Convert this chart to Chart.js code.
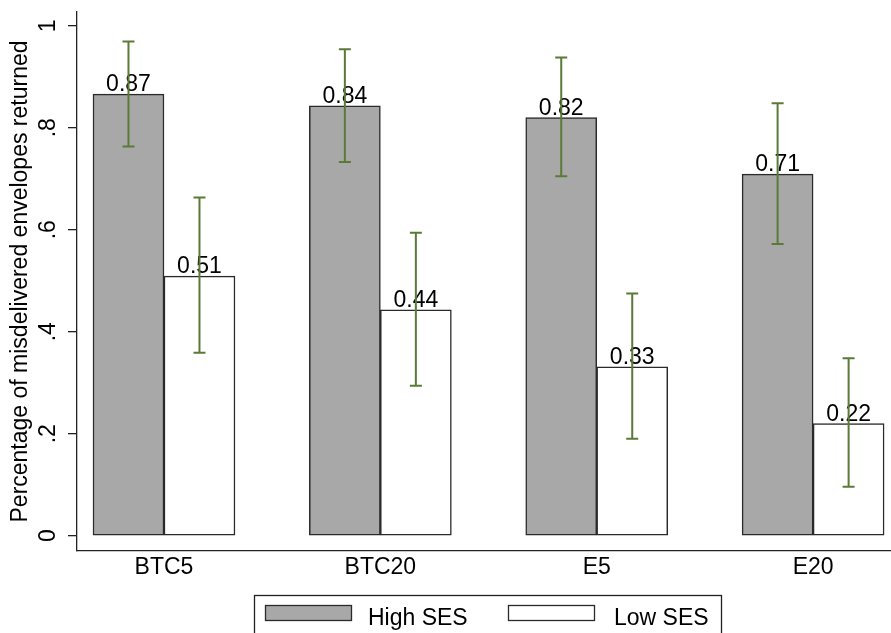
<!DOCTYPE html>
<html>
<head>
<meta charset="utf-8">
<script src="https://cdn.jsdelivr.net/npm/chart.js@4.4.1/dist/chart.umd.min.js"></script>
<style>
  html, body { margin: 0; padding: 0; background: #fff; }
  #wrap { width: 891px; height: 633px; position: relative; }
</style>
</head>
<body>
<div id="wrap"><canvas id="chart"></canvas></div>
<script>
const categories = ['BTC5', 'BTC20', 'E5', 'E20'];
const highSES = [0.866, 0.843, 0.820, 0.709];
const lowSES = [0.509, 0.443, 0.331, 0.220];
// 95% CI ends
const highLo = [0.763, 0.733, 0.705, 0.572];
const highHi = [0.969, 0.954, 0.938, 0.848];
const lowLo = [0.359, 0.294, 0.190, 0.096];
const lowHi = [0.663, 0.594, 0.475, 0.348];
const yTicks = [0, 0.2, 0.4, 0.6, 0.8, 1];
const yTickLabels = ['0', '.2', '.4', '.6', '.8', '1'];

const FONT = '"Liberation Sans", Arial, Helvetica, sans-serif';
const FS = 23;
const ciColor = '#5b7a38';

// bar values, error bars and rotated y tick labels
const extras = {
    id: 'extras',
    afterDatasetsDraw(chart) {
        const ctx = chart.ctx;
        const y = chart.scales.y;
        const errs = [[highLo, highHi], [lowLo, lowHi]];
        ctx.save();
        ctx.font = FS + 'px ' + FONT;
        ctx.fillStyle = '#000';
        ctx.textAlign = 'center';
        ctx.textBaseline = 'alphabetic';
        chart.data.datasets.forEach((ds, d) => {
            chart.getDatasetMeta(d).data.forEach((bar, i) => {
                ctx.fillText(ds.data[i].y.toFixed(2), bar.x, bar.y - 3);
            });
        });
        ctx.strokeStyle = ciColor;
        ctx.lineWidth = 2;
        chart.data.datasets.forEach((ds, d) => {
            chart.getDatasetMeta(d).data.forEach((bar, i) => {
                const x = bar.x;
                const y1 = y.getPixelForValue(errs[d][0][i]);
                const y2 = y.getPixelForValue(errs[d][1][i]);
                ctx.beginPath();
                ctx.moveTo(x, y1); ctx.lineTo(x, y2);
                ctx.moveTo(x - 6, y1); ctx.lineTo(x + 6, y1);
                ctx.moveTo(x - 6, y2); ctx.lineTo(x + 6, y2);
                ctx.stroke();
            });
        });
        ctx.restore();
    },
    afterDraw(chart) {
        const ctx = chart.ctx;
        const y = chart.scales.y;
        ctx.save();
        ctx.font = FS + 'px ' + FONT;
        ctx.fillStyle = '#000';
        ctx.textAlign = 'center';
        ctx.textBaseline = 'alphabetic';
        yTicks.forEach((v, i) => {
            ctx.save();
            ctx.translate(55, y.getPixelForValue(v));
            ctx.rotate(-Math.PI / 2);
            ctx.fillText(yTickLabels[i], 0, 0);
            ctx.restore();
        });

        // legend in a box
        ctx.strokeStyle = '#222';
        ctx.lineWidth = 1.3;
        ctx.strokeRect(254.5, 595.5, 467, 50);
        const sw = [265, 508];
        const tx = [368, 614];
        ctx.textAlign = 'left';
        chart.data.datasets.forEach((ds, d) => {
            ctx.fillStyle = ds.backgroundColor;
            ctx.fillRect(sw[d], 605, 87, 16);
            ctx.strokeStyle = ds.borderColor;
            ctx.strokeRect(sw[d] + 0.5, 605.5, 86, 15);
            ctx.fillStyle = '#000';
            ctx.fillText(ds.label, tx[d], 625);
        });
        ctx.restore();
    }
};

new Chart(document.getElementById('chart'), {
    type: 'bar',
    data: {
        datasets: [
            {
                label: 'High SES',
                data: categories.map((c, i) => ({ x: i, y: highSES[i] })),
                backgroundColor: '#a8a8a8',
                borderColor: '#2a2a2a',
                borderWidth: 1.5,
                borderSkipped: false,
                barThickness: 71
            },
            {
                label: 'Low SES',
                data: categories.map((c, i) => ({ x: i, y: lowSES[i] })),
                backgroundColor: '#ffffff',
                borderColor: '#2a2a2a',
                borderWidth: 1.5,
                borderSkipped: false,
                barThickness: 71
            }
        ]
    },
    options: {
        responsive: true,
        maintainAspectRatio: false,
        animation: false,
        layout: { padding: { top: 12, right: 0, left: 0, bottom: 42 } },
        plugins: { legend: { display: false }, tooltip: { enabled: false } },
        scales: {
            x: {
                type: 'linear',
                offset: false,
                min: -0.402,
                max: 3.36,
                afterBuildTicks: s => { s.ticks = categories.map((c, i) => ({ value: i })); },
                afterFit: s => { s.height = 40; },
                ticks: {
                    callback: v => categories[v],
                    color: '#000',
                    font: { family: FONT, size: FS },
                    padding: 3
                },
                grid: { display: false, drawTicks: false },
                border: { display: true, color: '#222', width: 1.3 }
            },
            y: {
                min: -0.03,
                max: 1.027,
                afterBuildTicks: s => { s.ticks = yTicks.map(v => ({ value: v })); },
                afterFit: s => { s.width = 77; },
                ticks: { display: false },
                grid: { drawOnChartArea: false, drawTicks: true, tickLength: 9, color: '#222', lineWidth: 1.3 },
                border: { display: true, color: '#222', width: 1.3 },
                title: {
                    display: true,
                    text: 'Percentage of misdelivered envelopes returned',
                    color: '#000',
                    font: { family: FONT, size: FS },
                    padding: { top: 7, bottom: 0 }
                }
            }
        }
    },
    plugins: [extras]
});
</script>
</body>
</html>
